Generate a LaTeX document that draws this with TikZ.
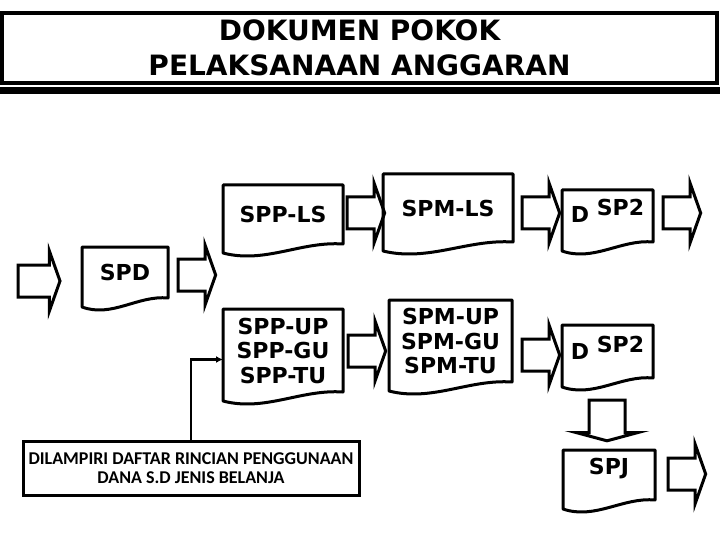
\documentclass[tikz,border=0pt]{standalone}
\usepackage{fontspec}
\setmainfont{DejaVu Sans}
\newfontfamily\catatanfont{Carlito}
\usetikzlibrary{shapes.arrows,calc,arrows.meta}

% outline of a document with a wavy bottom
\newcommand{\dokumen}[1]{%
  \draw[garis] (#1.south east) -- (#1.north east) -- (#1.north west) -- ($(#1.south west)+(0,9)$)
    .. controls ($(#1.south east)!0.65!(#1.south west)+(0,20)$)
    and ($(#1.south east)!0.35!(#1.south west)+(0,-3)$) .. cycle;}

\begin{document}
\begin{tikzpicture}[x=1pt,y=-1pt,
  garis/.style={line width=3pt,line join=round},
  dok/.style={inner sep=0pt,outer sep=0pt,align=center,
    font=\fontsize{22}{24.5}\selectfont\bfseries},
  panah/.style={single arrow,draw,line width=3pt,inner sep=14.5pt,
    outer sep=0pt,single arrow head extend=14pt,single arrow tip angle=141,anchor=tail}]
\useasboundingbox (0,0) rectangle (720,540);

% title
\node[draw,line width=3.5pt,minimum width=715pt,minimum height=70pt,inner sep=0pt,
  align=center,font=\fontsize{28}{35}\selectfont\bfseries] (judul) at (359.5,48)
  {DOKUMEN POKOK\\PELAKSANAAN ANGGARAN};
\fill (0,87) rectangle (720,94);

% documents
\node[dok,minimum width=86pt,minimum height=51pt] (spd) at (125,272.5) {SPD};
\node[dok,minimum width=120pt,minimum height=59pt] (sppls) at (283,214.5) {SPP-LS};
\node[dok,minimum width=120pt,minimum height=83pt] (sppup) at (283,350.5) {SPP-UP\\SPP-GU\\SPP-TU};
\node[dok,minimum width=130pt,minimum height=68pt] (spmls) at (448,208) {SPM-LS};
\node[dok,minimum width=123pt,minimum height=82pt] (spmup) at (450.5,341) {SPM-UP\\SPM-GU\\SPM-TU};
\node[dok,minimum width=91pt,minimum height=52pt,text depth=10pt] (dspa) at (607.5,216) {D \raisebox{7pt}{SP2}};
\node[dok,minimum width=91pt,minimum height=53pt,text depth=8pt] (dspb) at (607.5,351.5) {D \raisebox{7pt}{SP2}};
\node[dok,minimum width=92pt,minimum height=50pt,text depth=18pt] (spj) at (609,475) {SPJ};

\foreach \n in {spd,sppls,sppup,spmls,spmup,dspa,dspb,spj}{
  \dokumen{\n}
}

% block arrows
\node[panah,minimum height=42pt] (p0) at (18,281) {};
\node[panah,minimum height=35pt] (p1) at (178,275) {};
\node[panah,minimum height=35pt] (p2) at (347,213) {};
\node[panah,minimum height=31pt] (p3) at (522,213) {};
\node[panah,minimum height=31pt] (p4) at (663,213) {};
\node[panah,minimum height=34pt] (p5) at (348,351) {};
\node[panah,minimum height=31pt] (p6) at (522,355) {};
\node[panah,shape border rotate=270,inner sep=16.5pt,single arrow head extend=13pt,
  single arrow tip angle=150,minimum height=28pt] (p7) at (607,400) {};
\node[panah,minimum height=30pt] (p8) at (668,474) {};

% attachment note
\node[draw,line width=3pt,minimum width=336pt,minimum height=54pt,align=center,
  font=\catatanfont\fontsize{18}{19.5}\selectfont\bfseries] (catatan) at (191,468)
  {DILAMPIRI DAFTAR RINCIAN PENGGUNAAN\\DANA S.D JENIS BELANJA};
\draw[line width=2.5pt,-{Latex[length=7pt,width=7pt]}] (catatan.north) |- ([yshift=-9pt]sppup.west);
\end{tikzpicture}
\end{document}
